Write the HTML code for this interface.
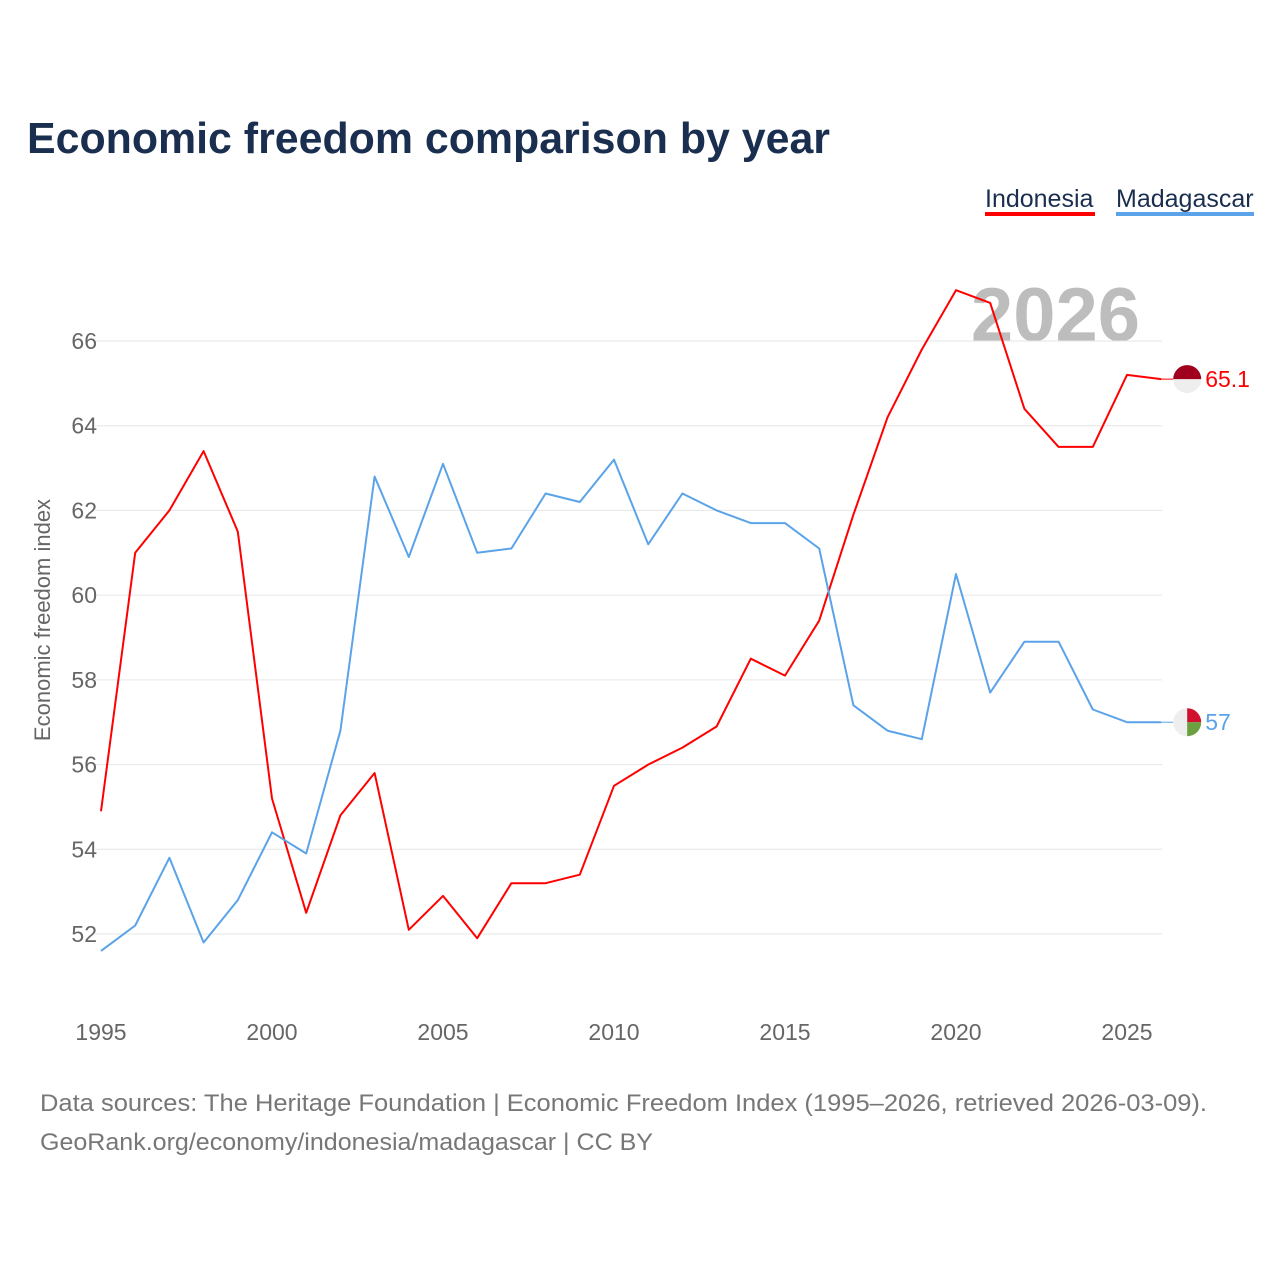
<!DOCTYPE html>
<html><head><meta charset="utf-8">
<style>
body{margin:0;background:#fff;font-family:"Liberation Sans",sans-serif;}
#wrap{position:relative;width:1280px;height:1280px;overflow:hidden;}
</style></head>
<body>
<div id="wrap">
<svg id="chart" width="1280" height="1280" xmlns="http://www.w3.org/2000/svg">
  <text x="27" y="153" font-size="44" font-weight="bold" fill="#1a2e4f" textLength="803" lengthAdjust="spacingAndGlyphs">Economic freedom comparison by year</text>
  <g>
    <text x="985" y="207" font-size="25" fill="#1a2e4f">Indonesia</text>
    <rect x="985" y="212" width="110" height="4" fill="#ff0000"/>
  </g>
  <g>
    <text x="1116" y="207" font-size="25" fill="#1a2e4f">Madagascar</text>
    <rect x="1116" y="212" width="138" height="4" fill="#5ba3e8"/>
  </g>
  <text x="1140" y="341" font-size="76" font-weight="bold" fill="#bdbdbd" text-anchor="end">2026</text>
  <g id="grid"></g>
  <g id="xticks"></g>
  <text transform="translate(50,620) rotate(-90)" font-size="22" fill="#666" text-anchor="middle">Economic freedom index</text>
  <g id="series"></g>
  <text x="40" y="1111" font-size="24" fill="#777" textLength="1167" lengthAdjust="spacingAndGlyphs">Data sources: The Heritage Foundation | Economic Freedom Index (1995–2026, retrieved 2026-03-09).</text>
  <text x="40" y="1150" font-size="24" fill="#777" textLength="613" lengthAdjust="spacingAndGlyphs">GeoRank.org/economy/indonesia/madagascar | CC BY</text>
</svg>
</div>
<script>
const years = [1995,1996,1997,1998,1999,2000,2001,2002,2003,2004,2005,2006,2007,2008,2009,2010,2011,2012,2013,2014,2015,2016,2017,2018,2019,2020,2021,2022,2023,2024,2025,2026];
const indonesia = [54.9,61.0,62.0,63.4,61.5,55.2,52.5,54.8,55.8,52.1,52.9,51.9,53.2,53.2,53.4,55.5,56.0,56.4,56.9,58.5,58.1,59.4,61.9,64.2,65.8,67.2,66.9,64.4,63.5,63.5,65.2,65.1];
const madagascar = [51.6,52.2,53.8,51.8,52.8,54.4,53.9,56.8,62.8,60.9,63.1,61.0,61.1,62.4,62.2,63.2,61.2,62.4,62.0,61.7,61.7,61.1,57.4,56.8,56.6,60.5,57.7,58.9,58.9,57.3,57.0,57.0];
const yTicks = [52,54,56,58,60,62,64,66];
const xTicks = [1995,2000,2005,2010,2015,2020,2025];

const NS="http://www.w3.org/2000/svg";
function xs(y){return 101+(y-1995)*(1127-101)/30;}
function ys(v){return 934-(v-52)*(934-341)/14;}
function mk(tag,attrs,parent){const e=document.createElementNS(NS,tag);for(const k in attrs)e.setAttribute(k,attrs[k]);parent.appendChild(e);return e;}

const grid=document.getElementById('grid');
yTicks.forEach(t=>{
  const l=mk('line',{x1:95,x2:1162,y1:ys(t),y2:ys(t),stroke:'#e6e6e6','stroke-width':1},grid);
  
  
  const tx=mk('text',{x:97,y:ys(t)+8,'font-size':23,fill:'#666','text-anchor':'end'},grid);
  tx.textContent=t;
  
  
});
const xg=document.getElementById('xticks');
xTicks.forEach(t=>{
  const tx=mk('text',{x:xs(t),y:1040,'font-size':23,fill:'#666','text-anchor':'middle'},xg);
  tx.textContent=t;
  
  
});
const sg=document.getElementById('series');
function drawSeries(vals,color,name){
  const d=vals.map((v,i)=>(i?'L':'M')+xs(years[i]).toFixed(1)+','+ys(v).toFixed(1)).join(' ');
  const p=mk('path',{d:d,fill:'none',stroke:color,'stroke-width':2,'stroke-linejoin':'round'},sg);
  
  
  const last=vals[vals.length-1], lx=xs(years[years.length-1]), ly=ys(last);
  mk('line',{x1:lx,x2:lx+12,y1:ly,y2:ly,stroke:color,'stroke-width':1},sg);
  const lab=mk('text',{x:lx+44,y:ly+8,'font-size':23,fill:color},sg);
  lab.textContent=String(last).replace(/\.0$/,'');
  
  
  return [lx+26,ly];
}
const [ix,iy]=drawSeries(indonesia,'#ff0000','indonesia');
const [mx,my]=drawSeries(madagascar,'#5ba3e8','madagascar');
const fi=mk('g',{},sg);


mk('circle',{cx:ix,cy:iy,r:14,fill:'#eeeeee'},fi);
mk('path',{d:`M${ix-14},${iy} A14,14 0 0 1 ${ix+14},${iy} Z`,fill:'#a0001e'},fi);
const fm=mk('g',{},sg);


mk('circle',{cx:mx,cy:my,r:14,fill:'#eeeeee'},fm);
mk('path',{d:`M${mx},${my-14} A14,14 0 0 1 ${mx+14},${my} L${mx},${my} Z`,fill:'#d0102c'},fm);
mk('path',{d:`M${mx+14},${my} A14,14 0 0 1 ${mx},${my+14} L${mx},${my} Z`,fill:'#6aa040'},fm);
</script>
</body></html>
